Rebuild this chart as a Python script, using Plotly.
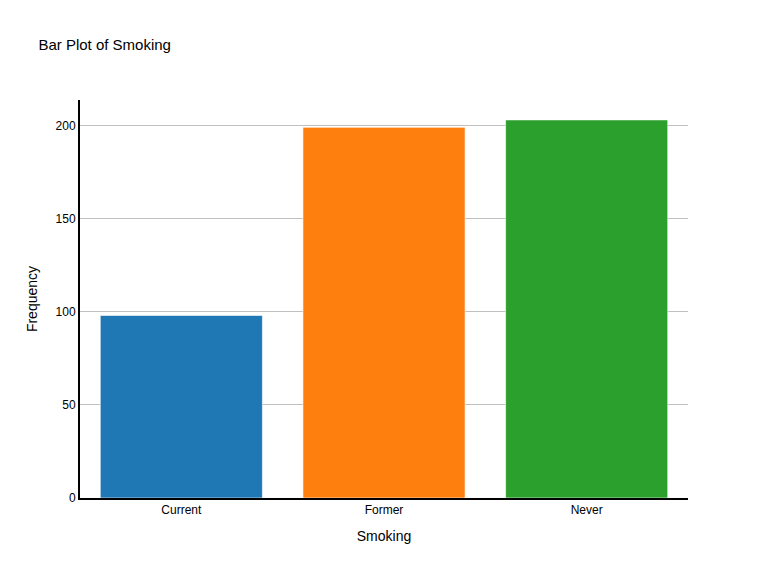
import plotly.graph_objects as go

categories = ["Current", "Former", "Never"]
counts = [98, 199, 203]
colors = ["#1f77b4", "#ff7f0e", "#2ca02c"]

fig = go.Figure(
    go.Bar(
        x=categories,
        y=counts,
        marker=dict(color=colors, line=dict(color="rgba(255,255,255,0.6)", width=1)),
    )
)
fig.update_layout(
    title=dict(text="Bar Plot of Smoking", x=0.05, font=dict(size=15, color="#000")),
    font=dict(family="Arial, Liberation Sans", color="#000"),
    width=768,
    height=576,
    plot_bgcolor="white",
    paper_bgcolor="white",
    bargap=0.2,
    showlegend=False,
    margin=dict(l=80, r=80, t=100, b=78),
)
fig.update_xaxes(
    title=dict(text="Smoking", font=dict(size=14)),
    showline=True, linecolor="black", linewidth=2,
    tickfont=dict(size=12), showgrid=False,
)
fig.update_yaxes(
    title=dict(text="Frequency", font=dict(size=14)),
    showline=True, linecolor="black", linewidth=2,
    showgrid=True, gridcolor="#c0c0c0", gridwidth=1,
    tickfont=dict(size=12), zeroline=False,
)
# drop the page's default body margin so the figure sits at the top-left corner
fig.write_html(
    "out.html",
    config={"displayModeBar": False},
    post_script="document.body.style.margin='0';",
)
